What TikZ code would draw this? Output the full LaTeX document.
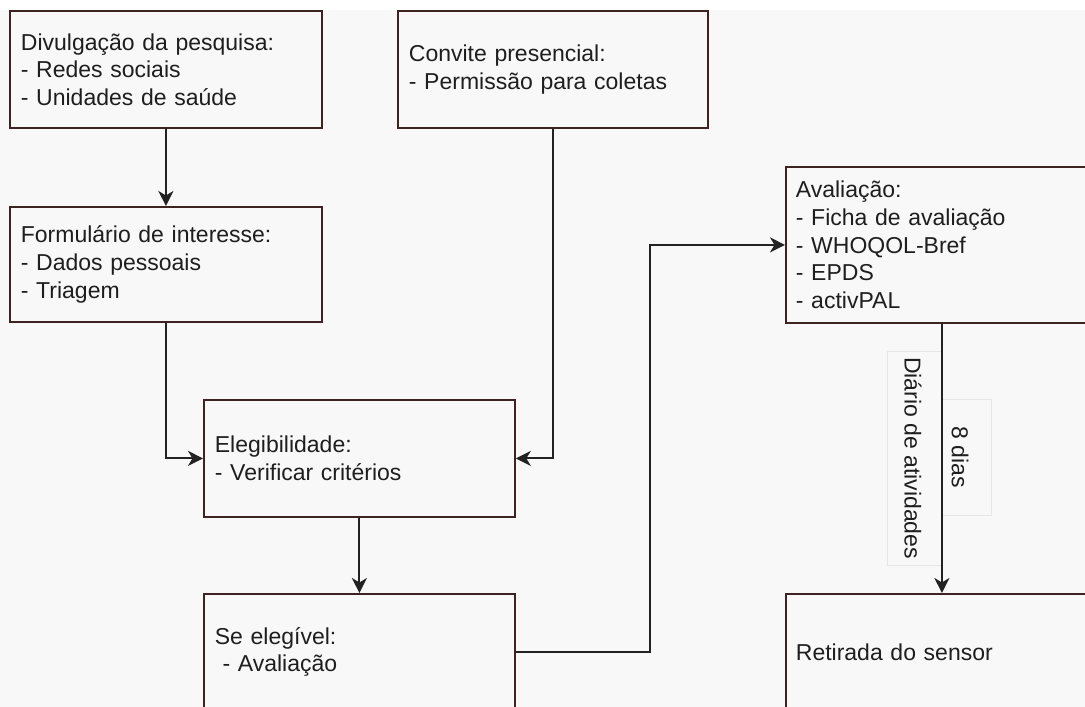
\documentclass[tikz,border=0pt]{standalone}
\usepackage{fontspec}
\setmainfont{Liberation Sans}
\usetikzlibrary{arrows.meta,calc}

\definecolor{pagebg}{HTML}{F8F8F8}
\definecolor{boxline}{HTML}{3E2224}
\definecolor{inkline}{HTML}{222222}
\definecolor{inktext}{HTML}{1E1E1E}
\definecolor{lblline}{HTML}{E6E6E6}

\tikzset{
  stage/.style={draw=boxline, line width=1.8pt, fill=pagebg, rectangle,
    anchor=north west, align=left, text=inktext, inner ysep=0pt,
    font=\fontsize{23}{27.6}\selectfont},
  conn/.style={draw=inkline, line width=2.1pt,
    -{Stealth[length=15pt,width=15pt,inset=4.5pt]}},
  lblframe/.style={draw=lblline, line width=0.8pt, fill=pagebg, rectangle,
    rotate=-90, inner sep=0pt},
  lbltext/.style={rotate=-90, text=inktext, inner sep=0pt,
    font=\fontsize{23}{27.6}\selectfont},
}

\begin{document}
\begin{tikzpicture}[x=1pt, y=-1pt]
  % page
  \useasboundingbox (0,0) rectangle (1085,707);
  \fill[white] (0,0) rectangle (1085,707);
  \fill[pagebg] (0,10) rectangle (1085,707);

  % stages of the protocol
  \node[stage, minimum width=312pt, minimum height=117pt, text width=290pt,
        inner xsep=11pt] (divulg) at (9,10)
    {Divulgação da pesquisa:\\- Redes sociais\\- Unidades de saúde};
  \node[stage, minimum width=310pt, minimum height=117pt, text width=288pt,
        inner xsep=11pt] (convite) at (397,10)
    {Convite presencial:\\- Permissão para coletas};
  \node[stage, minimum width=312pt, minimum height=115pt, text width=290pt,
        inner xsep=11pt] (form) at (9,206)
    {Formulário de interesse:\\- Dados pessoais\\- Triagem};
  \node[stage, minimum width=311pt, minimum height=117pt, text width=289pt,
        inner xsep=11pt] (eleg) at (203,399)
    {Elegibilidade:\\- Verificar critérios};
  \node[stage, minimum width=311pt, minimum height=116pt, text width=289pt,
        inner xsep=11pt] (seeleg) at (203,593)
    {Se elegível:\\\ - Avaliação};
  \node[stage, minimum width=312pt, minimum height=156pt, text width=292pt,
        inner xsep=10pt] (aval) at (785,166)
    {Avaliação:\\- Ficha de avaliação\\- WHOQOL-Bref\\- EPDS\\- activPAL};
  \node[stage, minimum width=312pt, minimum height=116pt, text width=292pt,
        inner xsep=10pt] (retir) at (785,593)
    {Retirada do sensor};

  % labels on the wear period
  \node[lblframe, minimum width=214pt, minimum height=55pt] (diarioframe) at (914.5,458) {};
  \node[lblframe, minimum width=116pt, minimum height=49pt] (diasframe) at (966.5,457) {};
  \node[lbltext] (diario) at (913,458) {Diário de atividades};
  \node[lbltext] (dias) at (960,457) {8 dias};

  % flow
  \coordinate (turn) at (650,0);
  \draw[conn] (divulg.south) -- (form.north);
  \draw[conn] (form.south) |- (eleg.west);
  \draw[conn] (convite.south) |- (eleg.east);
  \draw[conn] (eleg.south) -- (seeleg.north);
  \draw[conn] (seeleg.east) -| (turn |- aval.west) -- (aval.west);
  \draw[conn] (aval.south) -- (retir.north);
\end{tikzpicture}
\end{document}
